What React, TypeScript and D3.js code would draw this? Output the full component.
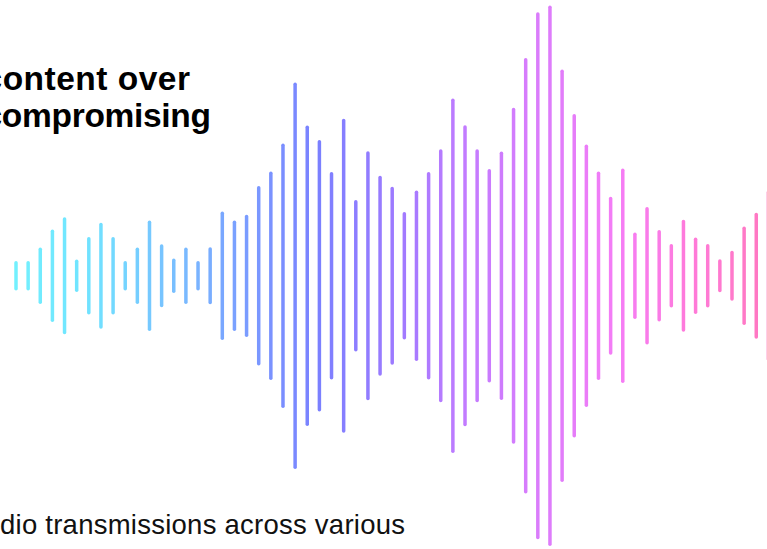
import { useMemo } from 'react'
import * as d3 from 'd3'

const WIDTH = 767
const HEIGHT = 549

// half-height of each bar (px at the original size)
const AMPLITUDES = [
  14.8, 14.8, 28.3, 46.3, 58.5, 16.3, 38.7, 53, 38.7, 14.8,
  28.3, 55.3, 31.5, 17.2, 28.3, 14.8, 28.5, 64.2, 55.2, 61.1,
  89.8, 104.3, 132.3, 193.2, 150.3, 135.7, 103.7, 157, 75.7, 124.5,
  100, 89, 63.7, 85.2, 103.7, 126.5, 177.3, 150.5, 126.5, 106.8,
  124.3, 168, 217.7, 263.5, 270.3, 206.2, 161.8, 131.2, 104.3, 79,
  107.2, 43.3, 68.8, 45.7, 31.8, 56, 38.3, 31.8, 16.5, 25,
  49.2, 63, 85,
]

const COLOR_STOPS = ['#72f0fe', '#70e2ff', '#78c2ff', '#7a9eff', '#7a80ff', '#9c7aff', '#c37bff', '#dc7cfb', '#f57cf6', '#ff7ad8', '#ff78bf']

const HEADLINE = ['content over', 'compromising']
const CAPTION = 'dio transmissions across various'

export default function App() {
  const x = useMemo(
    () => d3.scalePoint<number>().domain(AMPLITUDES.map((_, i) => i)).range([16, 768.4]),
    []
  )
  const amp = d3.scaleLinear().domain([0, 280]).range([0, 280])
  const color = d3
    .scaleLinear<string>()
    .domain(COLOR_STOPS.map((_, i) => (i / (COLOR_STOPS.length - 1)) * (AMPLITUDES.length - 1)))
    .range(COLOR_STOPS)
    .interpolate(d3.interpolateRgb)

  const cy = 275.8
  const strokeW = 3.5

  return (
    <div style={{ position: 'fixed', left: 0, top: 0, width: WIDTH, height: HEIGHT, background: '#fff' }}>
      <svg width={WIDTH} height={HEIGHT} style={{ display: 'block' }}>
        <g>
          {AMPLITUDES.map((a, i) => {
            const h = Math.max(0, amp(a) - strokeW / 2)
            return (
              <line
                key={i}
                x1={x(i)}
                x2={x(i)}
                y1={cy - h}
                y2={cy + h}
                stroke={color(i)}
                strokeWidth={strokeW}
                strokeLinecap="round"
              />
            )
          })}
        </g>
        <g fontFamily="'Liberation Sans', Arial, Helvetica, sans-serif" fontWeight="bold" fontSize={33.5} fill="#000">
          <text x={-16.5} y={89.5} textLength={206.5} lengthAdjust="spacing">{HEADLINE[0]}</text>
          <text x={-16.5} y={126.5} textLength={227.5} lengthAdjust="spacing">{HEADLINE[1]}</text>
        </g>
        <text
          x={0}
          y={533.5}
          fontFamily="'Liberation Sans', Arial, Helvetica, sans-serif"
          fontSize={27.5}
          fill="#111"
          textLength={405}
          lengthAdjust="spacing"
        >
          {CAPTION}
        </text>
      </svg>
    </div>
  )
}
